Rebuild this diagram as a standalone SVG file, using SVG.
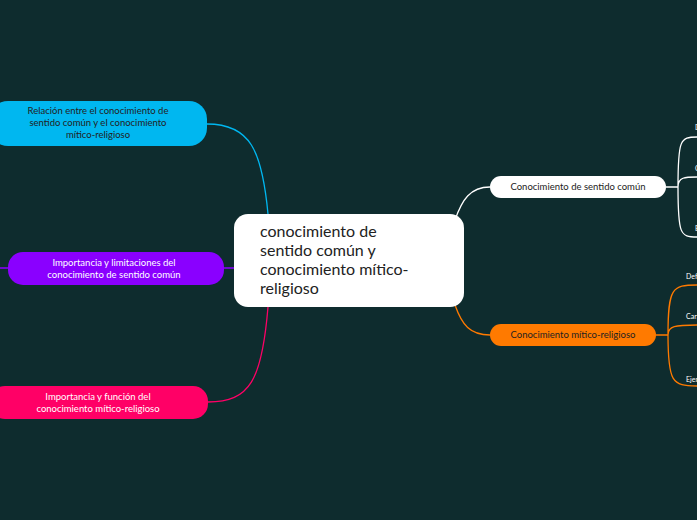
<svg xmlns="http://www.w3.org/2000/svg" width="697" height="520" viewBox="0 0 697 520">
<style>
text{font-family:Lato,"Noto Sans",sans-serif}
.s{font-size:9.5px;text-anchor:middle}
.t{font-size:7px;fill:#fff}
path{fill:none;stroke-width:1.3}
</style>
<rect width="697" height="520" fill="#0e2c2e"/>
<g id="connectors">
<path d="M207,124 C250,124 262,150 268,214" stroke="#00b7f0"/>
<path d="M224,268 L234,268 M0,268 L8,268" stroke="#8a00ff"/>
<path d="M208,402 C250,402 262,380 268,307" stroke="#ff0066"/>
<path d="M455,220 C462,200 470,187 490,187" stroke="#fff"/>
<path d="M666,187 L678,187 M678,187 C678,140 680,137 697,137 M678,187 C678,177 685,177 697,177 M678,187 C678,234 680,237 697,237" stroke="#fff"/>
<path d="M455,305 C462,325 470,335 490,335" stroke="#ff7a00"/>
<path d="M656,335 L668,335 M668,335 C668,288 672,285 697,285 M668,335 C668,326 675,325 697,325 M668,335 C668,382 672,386 697,386" stroke="#ff7a00"/>
</g>
<g id="center"><rect x="234" y="214" width="230" height="93" rx="14" fill="#fff"/>
<text x="260" y="237" font-size="16" fill="#222"><tspan x="260">conocimiento de</tspan><tspan x="260" dy="19">sentido común y</tspan><tspan x="260" dy="19">conocimiento mítico-</tspan><tspan x="260" dy="19">religioso</tspan></text></g>
<g id="n1"><rect x="-10" y="101" width="217" height="45" rx="18" fill="#00b7f0"/>
<text class="s" fill="#222"><tspan x="98" y="114">Relación entre el conocimiento de</tspan><tspan x="98" dy="12">sentido común y el conocimiento</tspan><tspan x="98" dy="12">mítico-religioso</tspan></text></g>
<g id="n2"><rect x="8" y="252" width="216" height="33" rx="15" fill="#8a00ff"/>
<text class="s" fill="#fff"><tspan x="114" y="266">Importancia y limitaciones del</tspan><tspan x="114" dy="12">conocimiento de sentido común</tspan></text></g>
<g id="n3"><rect x="-10" y="386" width="218" height="33" rx="15" fill="#ff0066"/>
<text class="s" fill="#fff"><tspan x="98" y="400">Importancia y función del</tspan><tspan x="98" dy="12">conocimiento mítico-religioso</tspan></text></g>
<g id="n4"><rect x="490" y="176" width="176" height="22" rx="11" fill="#fff"/>
<text class="s" x="578" y="190" fill="#222">Conocimiento de sentido común</text></g>
<g id="n5"><rect x="490" y="324" width="166" height="22" rx="11" fill="#ff7a00"/>
<text class="s" x="573" y="338" fill="#222">Conocimiento mítico-religioso</text></g>
<g id="leaves">
<text class="t" x="695" y="130">D</text><text class="t" x="695" y="171">C</text><text class="t" x="695" y="231">E</text>
<text class="t" x="686" y="279">Definición</text><text class="t" x="686" y="319">Características</text><text class="t" x="686" y="382">Ejemplos</text>
</g>
</svg>
